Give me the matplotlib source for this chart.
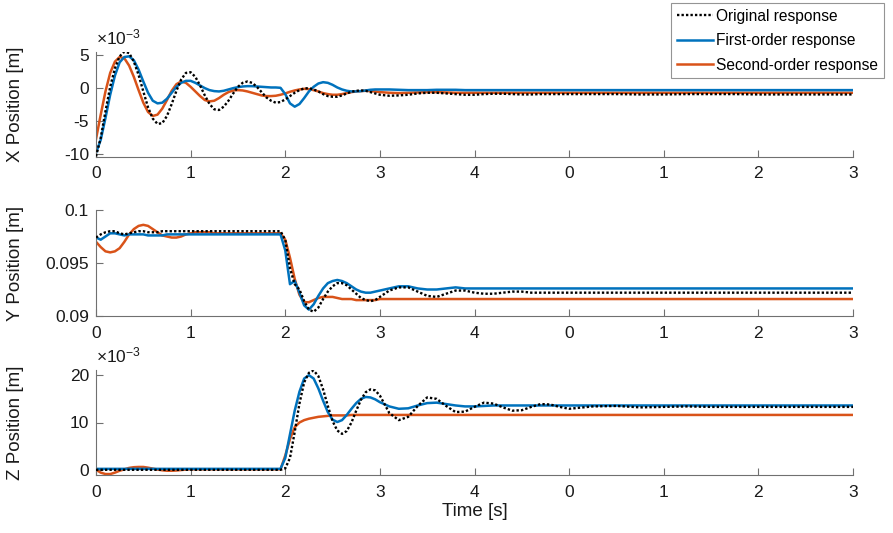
import numpy as np
import matplotlib
matplotlib.use('Agg')
import matplotlib.pyplot as plt

plt.rcParams['font.family'] = ['Liberation Sans', 'DejaVu Sans']
plt.rcParams['axes.unicode_minus'] = False
plt.rcParams['mathtext.fontset'] = 'custom'
plt.rcParams['mathtext.rm'] = 'Liberation Sans'
plt.rcParams['mathtext.it'] = 'Liberation Sans:italic'

# sample times: dense up to 3 s, then coarser
T = np.concatenate([np.arange(0, 3.001, 0.05), np.arange(3.1, 5.001, 0.1), np.arange(5.25, 8.001, 0.25)])

tick_pos = [0, 1, 2, 3, 4, 5, 6, 7, 8]
tick_labels = ['0', '1', '2', '3', '4', '0', '1', '2', '3']
series_names = ['Original response', 'First-order response', 'Second-order response']

# X position (x 1e-3 m)
x_orig = [-10.3, -7.5, -3.5, 0.2, 3.0, 4.8, 5.5, 5.3, 4.0, 2.0,
          -0.5, -2.9, -4.6, -5.4, -5.3, -4.2, -2.4, -0.4, 1.3, 2.3,
          2.4, 1.7, 0.4, -1.1, -2.4, -3.2, -3.3, -2.8, -1.9, -0.8,
          0.2, 0.8, 1.0, 0.8, 0.2, -0.6, -1.4, -1.9, -2.2, -2.1,
          -1.7, -1.2, -0.7, -0.3, -0.05, 0.0, -0.2, -0.5, -0.9, -1.2,
          -1.3, -1.3, -1.1, -0.8, -0.55, -0.4, -0.35, -0.4, -0.6, -0.8,
          -1.0,
          -1.15, -1.1, -1.0, -0.8, -0.7, -0.7, -0.8, -0.9, -1.0, -1.0,
          -0.9, -0.85, -0.85, -0.9, -0.95, -0.95, -0.9, -0.9, -0.9, -0.9,
          -0.9, -0.9, -0.95, -0.95, -0.9, -0.9, -0.9, -0.95, -0.95, -0.95, -0.95, -0.95]
x_first = [-9.8, -7.8, -4.5, -1.0, 1.9, 3.9, 4.7, 4.8, 4.2, 2.8,
           1.0, -0.7, -1.9, -2.3, -2.2, -1.6, -0.7, 0.2, 0.8, 1.1,
           1.1, 0.8, 0.4, 0.0, -0.3, -0.45, -0.5, -0.4, -0.2, 0.0,
           0.15, 0.25, 0.3, 0.3, 0.25, 0.2, 0.15, 0.1, 0.1, 0.05,
           -0.9, -2.3, -2.8, -2.4, -1.5, -0.5, 0.2, 0.7, 0.9, 0.8,
           0.5, 0.1, -0.2, -0.4, -0.5, -0.5, -0.45, -0.35, -0.25, -0.2,
           -0.2,
           -0.2, -0.25, -0.3, -0.3, -0.3, -0.25, -0.25, -0.25, -0.3, -0.3,
           -0.3, -0.3, -0.3, -0.3, -0.3, -0.3, -0.3, -0.3, -0.3, -0.3,
           -0.3, -0.3, -0.3, -0.3, -0.3, -0.3, -0.3, -0.3, -0.3, -0.3, -0.3, -0.3]
x_second = [-7.7, -4.0, -0.5, 2.3, 4.0, 4.7, 4.5, 3.4, 1.7, -0.3,
            -2.2, -3.6, -4.2, -4.0, -3.1, -1.8, -0.4, 0.6, 1.0, 0.8,
            0.2, -0.5, -1.2, -1.8, -2.0, -1.9, -1.5, -1.0, -0.6, -0.35,
            -0.3, -0.35, -0.5, -0.7, -0.9, -1.1, -1.2, -1.2, -1.15, -1.0,
            -0.8, -0.55, -0.35, -0.2, -0.1, -0.15, -0.3, -0.5, -0.75, -0.9,
            -1.0, -1.0, -0.9, -0.75, -0.6, -0.5, -0.45, -0.4, -0.45, -0.5,
            -0.6,
            -0.7, -0.75, -0.7, -0.65, -0.6, -0.6, -0.65, -0.7, -0.7, -0.7,
            -0.7, -0.7, -0.7, -0.7, -0.7, -0.7, -0.7, -0.7, -0.7, -0.7,
            -0.7, -0.7, -0.7, -0.7, -0.7, -0.7, -0.7, -0.7, -0.7, -0.7, -0.7, -0.7]

# Y position (m)
y_orig = [0.0974, 0.0977, 0.0979, 0.0980, 0.0980, 0.0978, 0.0977, 0.0978, 0.0979, 0.0980,
          0.0980, 0.0979, 0.0979, 0.0979, 0.0980, 0.0980, 0.0980, 0.0980, 0.0980, 0.0980,
          0.0980, 0.0980, 0.0980, 0.0980, 0.0980, 0.0980, 0.0980, 0.0980, 0.0980, 0.0980,
          0.0980, 0.0980, 0.0980, 0.0980, 0.0980, 0.0980, 0.0980, 0.0980, 0.0980, 0.0980,
          0.0972, 0.0945, 0.0930, 0.0925, 0.0914, 0.0906, 0.0904, 0.0908, 0.0916, 0.0923,
          0.0928, 0.0931, 0.0931, 0.0929, 0.0925, 0.0921, 0.0917, 0.0915, 0.0914, 0.0915,
          0.0918,
          0.0924, 0.0927, 0.0927, 0.0923, 0.0919, 0.0918, 0.0921, 0.0924, 0.0924, 0.0922,
          0.0921, 0.0921, 0.0922, 0.0923, 0.0923, 0.0922, 0.0922, 0.0922, 0.0922, 0.0922,
          0.0922, 0.0922, 0.0922, 0.0922, 0.0922, 0.0922, 0.0922, 0.0922, 0.0922, 0.0922, 0.0922, 0.0922]
y_first = [0.0974, 0.0972, 0.0975, 0.0978, 0.0978, 0.0977, 0.0976, 0.0977, 0.0977, 0.0977,
           0.0977, 0.0976, 0.0976, 0.0976, 0.0976, 0.0977, 0.0977, 0.0977, 0.0977, 0.0977,
           0.0977, 0.0977, 0.0977, 0.0977, 0.0977, 0.0977, 0.0977, 0.0977, 0.0977, 0.0977,
           0.0977, 0.0977, 0.0977, 0.0977, 0.0977, 0.0977, 0.0977, 0.0977, 0.0977, 0.0977,
           0.0962, 0.0930, 0.0933, 0.0922, 0.0910, 0.0906, 0.0911, 0.0919, 0.0926, 0.0931,
           0.0933, 0.0934, 0.0933, 0.0931, 0.0928, 0.0925, 0.0923, 0.0922, 0.0922, 0.0923,
           0.0924,
           0.0926, 0.0928, 0.0928, 0.0926, 0.0925, 0.0925, 0.0926, 0.0927, 0.0926, 0.0926,
           0.0926, 0.0926, 0.0926, 0.0926, 0.0926, 0.0926, 0.0926, 0.0926, 0.0926, 0.0926,
           0.0926, 0.0926, 0.0926, 0.0926, 0.0926, 0.0926, 0.0926, 0.0926, 0.0926, 0.0926, 0.0926, 0.0926]
y_second = [0.0970, 0.0965, 0.0961, 0.0960, 0.0961, 0.0964, 0.0970, 0.0977, 0.0982, 0.0985,
            0.0986, 0.0985, 0.0982, 0.0979, 0.0976, 0.0975, 0.0974, 0.0974, 0.0975, 0.0977,
            0.0978, 0.0979, 0.0979, 0.0979, 0.0979, 0.0978, 0.0978, 0.0978, 0.0978, 0.0978,
            0.0978, 0.0978, 0.0978, 0.0978, 0.0978, 0.0978, 0.0978, 0.0978, 0.0978, 0.0978,
            0.0972, 0.0955, 0.0935, 0.0920, 0.0913, 0.0913, 0.0915, 0.0917, 0.0918, 0.0918,
            0.0918, 0.0917, 0.0916, 0.0916, 0.0916, 0.0915, 0.0915, 0.0915, 0.0915, 0.0915,
            0.0916,
            0.0916, 0.0916, 0.0916, 0.0916, 0.0916, 0.0916, 0.0916, 0.0916, 0.0916, 0.0916,
            0.0916, 0.0916, 0.0916, 0.0916, 0.0916, 0.0916, 0.0916, 0.0916, 0.0916, 0.0916,
            0.0916, 0.0916, 0.0916, 0.0916, 0.0916, 0.0916, 0.0916, 0.0916, 0.0916, 0.0916, 0.0916, 0.0916]

# Z position (x 1e-3 m)
z_orig = [0.0, 0.0, 0.0, 0.0, 0.0, 0.0, 0.0, 0.0, 0.0, 0.0,
          0.0, 0.0, 0.0, 0.0, 0.0, 0.0, 0.0, 0.0, 0.0, 0.0,
          0.0, 0.0, 0.0, 0.0, 0.0, 0.0, 0.0, 0.0, 0.0, 0.0,
          0.0, 0.0, 0.0, 0.0, 0.0, 0.0, 0.0, 0.0, 0.0, 0.0,
          0.3, 2.5, 8.0, 14.0, 18.5, 20.5, 21.0, 19.8, 17.0, 13.5,
          10.3, 8.3, 7.6, 8.2, 10.0, 12.5, 14.8, 16.4, 17.0, 16.8,
          15.7,
          12.0, 10.5, 11.2, 13.5, 15.3, 15.0, 13.5, 12.2, 12.3, 13.3,
          14.2, 14.0, 13.2, 12.5, 12.6, 13.3, 13.9, 13.8, 13.3, 12.9,
          13.4, 13.5, 13.2, 13.3, 13.4, 13.3, 13.3, 13.3, 13.3, 13.3, 13.3, 13.3]
z_first = [0.2, 0.2, 0.2, 0.2, 0.2, 0.2, 0.2, 0.2, 0.2, 0.2,
           0.2, 0.2, 0.2, 0.2, 0.2, 0.2, 0.2, 0.2, 0.2, 0.2,
           0.2, 0.2, 0.2, 0.2, 0.2, 0.2, 0.2, 0.2, 0.2, 0.2,
           0.2, 0.2, 0.2, 0.2, 0.2, 0.2, 0.2, 0.2, 0.2, 0.2,
           2.5, 7.5, 12.5, 16.5, 19.3, 20.0, 19.3, 17.2, 14.6, 12.2,
           10.6, 10.1, 10.5, 11.6, 12.9, 14.1, 15.0, 15.4, 15.3, 14.9,
           14.3,
           13.4, 12.9, 13.0, 13.6, 14.1, 14.2, 13.9, 13.6, 13.4, 13.4,
           13.5, 13.6, 13.6, 13.6, 13.6, 13.6, 13.6, 13.6, 13.6, 13.6,
           13.6, 13.6, 13.6, 13.6, 13.6, 13.6, 13.6, 13.6, 13.6, 13.6, 13.6, 13.6]
z_second = [0.0, -0.6, -0.9, -0.9, -0.6, -0.2, 0.1, 0.4, 0.55, 0.6,
            0.6, 0.45, 0.25, 0.05, -0.1, -0.2, -0.2, -0.15, -0.05, 0.05,
            0.1, 0.1, 0.1, 0.1, 0.1, 0.1, 0.1, 0.1, 0.1, 0.1,
            0.1, 0.1, 0.1, 0.1, 0.1, 0.1, 0.1, 0.1, 0.1, 0.1,
            3.0, 6.5, 9.0, 10.0, 10.5, 10.8, 11.0, 11.2, 11.3, 11.4,
            11.5, 11.5, 11.5, 11.5, 11.6, 11.6, 11.6, 11.6, 11.6, 11.6,
            11.6,
            11.6, 11.6, 11.6, 11.6, 11.6, 11.6, 11.6, 11.6, 11.6, 11.6,
            11.6, 11.6, 11.6, 11.6, 11.6, 11.6, 11.6, 11.6, 11.6, 11.6,
            11.6, 11.6, 11.6, 11.6, 11.6, 11.6, 11.6, 11.6, 11.6, 11.6, 11.6, 11.6]

BLUE = '#0072BD'
RED = '#D95319'
AXIS_GREY = '#707070'

fig = plt.figure(figsize=(8.93, 5.33), dpi=100)
left, width = 96 / 893, 757 / 893
ax_x = fig.add_axes([left, 1 - 156.7 / 533, width, 105 / 533])
ax_y = fig.add_axes([left, 1 - 316 / 533, width, 106 / 533])
ax_z = fig.add_axes([left, 1 - 475 / 533, width, 105 / 533])

panels = [
    (ax_x, x_orig, x_first, x_second, 'X Position [m]', (-10.35, 5.5), [-10, -5, 0, 5], True),
    (ax_y, y_orig, y_first, y_second, 'Y Position [m]', (0.09, 0.1), [0.09, 0.095, 0.1], False),
    (ax_z, z_orig, z_first, z_second, 'Z Position [m]', (-1.1, 21.1), [0, 10, 20], True),
]

handles = None
for ax, orig, first, second, ylabel, ylim, yticks, scaled in panels:
    h1, = ax.plot(T, orig, color='black', lw=1.7, linestyle=(0, (1, 0.9)), zorder=3)
    h3, = ax.plot(T, second, color=RED, lw=1.8, zorder=2)
    h2, = ax.plot(T, first, color=BLUE, lw=1.8, zorder=2.5)
    if handles is None:
        handles = [h1, h2, h3]

    ax.set_xlim(0, 8)
    ax.set_ylim(*ylim)
    ax.set_xticks(tick_pos)
    ax.set_xticklabels(tick_labels)
    ax.set_yticks(yticks)
    ax.set_yticklabels(['%g' % v for v in yticks])
    for side in ['top', 'right']:
        ax.spines[side].set_visible(False)
    for side in ['left', 'bottom']:
        ax.spines[side].set_color(AXIS_GREY)
        ax.spines[side].set_linewidth(0.8)
    ax.tick_params(direction='in', length=5, width=0.8, color=AXIS_GREY,
                   labelsize=12.5, labelcolor='#1a1a1a')
    ax.tick_params(axis='x', pad=7)
    ax.tick_params(axis='y', pad=5)
    ax.set_ylabel(ylabel, fontsize=13.5, color='#1a1a1a')
    ax.yaxis.set_label_coords(-0.095, 0.5)
    if scaled:
        ax.annotate('×10$^{\\mathregular{-3}}$', xy=(0, 1), xycoords='axes fraction',
                    xytext=(0, 3), textcoords='offset points', fontsize=12.5,
                    ha='left', va='bottom', color='#1a1a1a')

ax_z.set_xlabel('Time [s]', fontsize=13.5, color='#1a1a1a', labelpad=2)

leg = fig.legend(handles, series_names, loc='upper right',
                 bbox_to_anchor=(884 / 893, 1 - 3 / 533), borderaxespad=0,
                 fontsize=11.2, frameon=True, fancybox=False, handlelength=2.3,
                 handletextpad=0.2, labelspacing=0.6, borderpad=0.38)
leg.get_frame().set_edgecolor('#7a7a7a')
leg.get_frame().set_linewidth(0.8)

fig.savefig('out.png', dpi=100)
